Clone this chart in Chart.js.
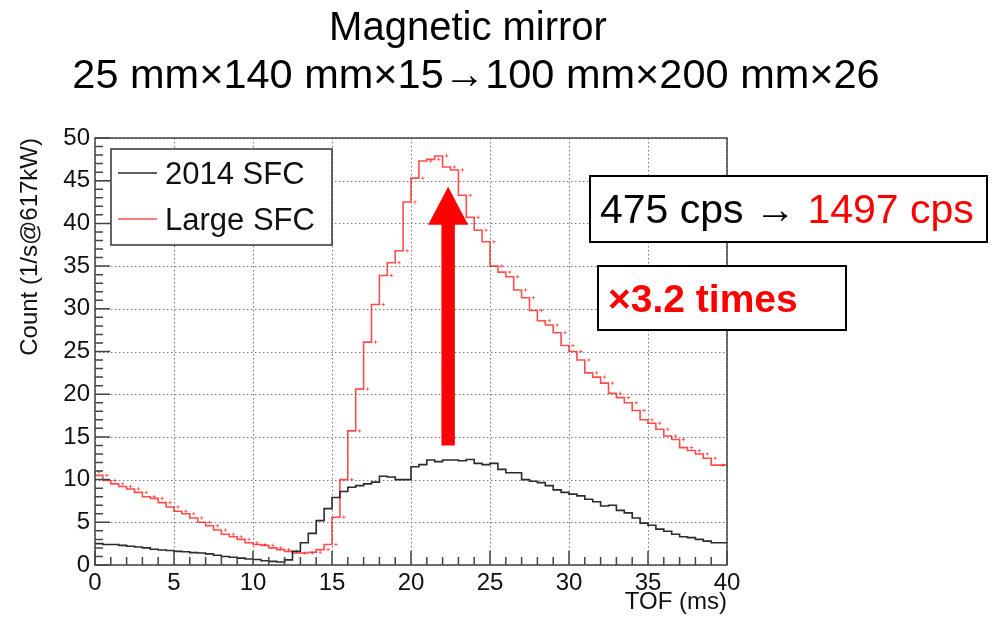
<!DOCTYPE html>
<html>
<head>
<meta charset="utf-8">
<script src="https://cdn.jsdelivr.net/npm/chart.js@4/dist/chart.umd.min.js"></script>
<style>
  body { margin: 0; background: #fff; }
  canvas { display: block; }
</style>
</head>
<body>
<canvas id="tofChart" width="994" height="617"></canvas>
<script>
// TOF histograms, 0.5 ms bins from 0 to 40 ms
const binWidth = 0.5;
const sfc2014 = [
  2.6, 2.5, 2.4, 2.4, 2.3, 2.2, 2.1, 2.0, 1.85, 1.75,
  1.7, 1.6, 1.55, 1.45, 1.4, 1.3, 1.15, 1.0, 0.9, 0.8,
  0.7, 0.65, 0.5, 0.42, 0.35, 0.6, 1.6, 2.6, 3.7, 5.2,
  6.6, 7.9, 8.6, 9.1, 9.3, 9.5, 9.7, 10.4, 10.3, 10.0,
  10.0, 11.5, 11.75, 12.3, 12.1, 12.3, 12.3, 12.2, 12.35, 11.9,
  11.75, 11.9, 11.2, 10.8, 10.8, 10.0, 9.8, 9.65, 9.3, 8.8,
  8.5, 8.3, 8.1, 7.7, 7.4, 6.9, 7.0, 6.4, 6.1, 5.5,
  4.9, 4.65, 4.2, 3.95, 3.6, 3.3, 3.2, 3.0, 2.8, 2.6
];
const sfcLarge = [
  10.9, 10.5, 9.9, 9.5, 9.2, 8.9, 8.5, 8.0, 7.8, 7.3,
  6.8, 6.3, 6.0, 5.5, 5.0, 4.6, 4.1, 3.6, 3.3, 3.0,
  2.6, 2.4, 2.3, 2.0, 1.8, 1.6, 1.4, 1.4, 1.5, 1.8,
  2.4, 5.6, 10.0, 15.7, 20.6, 26.1, 30.5, 33.9, 35.4, 36.8,
  42.5, 45.3, 47.3, 47.5, 47.9, 46.6, 46.25, 43.3, 40.7, 39.2,
  37.85, 35.0, 34.3, 33.75, 32.2, 31.3, 29.8, 28.6, 28.1, 27.2,
  25.7, 25.0, 24.0, 22.5, 22.0, 21.3, 20.1, 19.6, 19.0, 18.1,
  17.0, 16.6, 15.9, 15.1, 14.7, 13.75, 13.4, 13.0, 12.5, 11.7
];
const seriesNames = ["2014 SFC", "Large SFC"];
const titleLines = ["Magnetic mirror", "25 mm×140 mm×15→100 mm×200 mm×26"];
const rateBefore = "475 cps → ";
const rateAfter = "1497 cps";
const gainText = "×3.2 times";
// arrow from the old peak level up to the new one
const arrowX = 22.35;
const arrowFrom = 14;
const arrowTo = 44.3;

const FONT = "'Liberation Sans', Arial, Helvetica, sans-serif";
const BLACK_LINE = "#2b2b2b";
const RED_LINE = "rgba(255,0,0,0.7)";

// left edges + closing point so stepped lines cover every bin
function stepPoints(vals) {
  const pts = vals.map((v, i) => ({ x: i * binWidth, y: v }));
  pts.push({ x: vals.length * binWidth, y: vals[vals.length - 1] });
  return pts;
}
function centerPoints(vals) {
  return vals.map((v, i) => ({ x: (i + 0.5) * binWidth, y: v }));
}

// ROOT-style dotted grid, frame, inner tick marks, legend, title and note boxes
const decorations = {
  id: "decorations",
  beforeDatasetsDraw(chart) {
    const { ctx, chartArea: a, scales: { x, y } } = chart;
    ctx.save();
    ctx.strokeStyle = "#7a7a7a";
    ctx.lineWidth = 1;
    ctx.setLineDash([1.5, 2.5]);
    ctx.beginPath();
    x.ticks.forEach(t => {
      const px = Math.round(x.getPixelForValue(t.value)) + 0.5;
      ctx.moveTo(px, a.top);
      ctx.lineTo(px, a.bottom);
    });
    y.ticks.forEach(t => {
      const py = Math.round(y.getPixelForValue(t.value)) + 0.5;
      ctx.moveTo(a.left, py);
      ctx.lineTo(a.right, py);
    });
    ctx.stroke();
    ctx.restore();
  },
  afterDatasetsDraw(chart) {
    const { ctx, scales: { x, y } } = chart;
    ctx.save();

    // red arrow
    const ax = x.getPixelForValue(arrowX);
    const yTop = y.getPixelForValue(arrowTo);
    const yBot = y.getPixelForValue(arrowFrom);
    const headH = 38, headW = 20, shaft = 6.7;
    ctx.fillStyle = "#ff0000";
    ctx.beginPath();
    ctx.moveTo(ax - shaft, yBot);
    ctx.lineTo(ax - shaft, yTop + headH);
    ctx.lineTo(ax - headW, yTop + headH);
    ctx.lineTo(ax, yTop);
    ctx.lineTo(ax + headW, yTop + headH);
    ctx.lineTo(ax + shaft, yTop + headH);
    ctx.lineTo(ax + shaft, yBot);
    ctx.closePath();
    ctx.fill();
    ctx.restore();
  },
  afterDraw(chart) {
    const { ctx, chartArea: a, scales: { x, y } } = chart;
    ctx.save();

    // frame
    ctx.strokeStyle = "#444";
    ctx.lineWidth = 1.5;
    ctx.strokeRect(a.left, a.top, a.right - a.left, a.bottom - a.top);

    // ticks along the x axis, 1 ms minor / 5 ms major
    ctx.beginPath();
    for (let t = 0; t <= 40; t++) {
      const px = x.getPixelForValue(t);
      const len = t % 5 === 0 ? 14 : 8;
      ctx.moveTo(px, a.bottom);
      ctx.lineTo(px, a.bottom - len);
    }
    // ticks along the y axis
    for (let v = 0; v <= 50; v++) {
      const py = y.getPixelForValue(v);
      const len = v % 5 === 0 ? 15 : 8;
      ctx.moveTo(a.left, py);
      ctx.lineTo(a.left + len, py);
    }
    ctx.stroke();

    // legend
    ctx.fillStyle = "#fff";
    ctx.fillRect(111, 149, 221, 96);
    ctx.strokeStyle = "#333";
    ctx.lineWidth = 1.5;
    ctx.strokeRect(111, 149, 221, 96);
    ctx.font = "31px " + FONT;
    ctx.textBaseline = "alphabetic";
    ctx.textAlign = "left";
    const legendRows = [
      { name: seriesNames[0], color: BLACK_LINE, y: 173 },
      { name: seriesNames[1], color: RED_LINE, y: 219 }
    ];
    legendRows.forEach(r => {
      ctx.strokeStyle = r.color;
      ctx.lineWidth = 1.5;
      ctx.beginPath();
      ctx.moveTo(118, r.y);
      ctx.lineTo(157, r.y);
      ctx.stroke();
      ctx.fillStyle = "#111";
      ctx.fillText(r.name, 165, r.y + 11);
    });

    // title
    ctx.fillStyle = "#000";
    ctx.textAlign = "center";
    ctx.font = "40px " + FONT;
    ctx.fillText(titleLines[0], 468, 40);
    ctx.font = "41.5px " + FONT;
    ctx.fillText(titleLines[1], 476, 88);

    // rate box
    ctx.textAlign = "left";
    ctx.fillStyle = "#fff";
    ctx.fillRect(590, 176, 397, 66);
    ctx.strokeStyle = "#000";
    ctx.lineWidth = 2;
    ctx.strokeRect(590, 176, 397, 66);
    ctx.font = "41px " + FONT;
    ctx.fillStyle = "#000";
    ctx.fillText(rateBefore, 600, 223);
    const w = ctx.measureText(rateBefore).width;
    ctx.fillStyle = "#ff0000";
    ctx.fillText(rateAfter, 600 + w, 223);

    // gain box
    ctx.fillStyle = "#fff";
    ctx.fillRect(598, 266, 248, 64);
    ctx.strokeRect(598, 266, 248, 64);
    ctx.font = "bold 39px " + FONT;
    ctx.fillStyle = "#ff0000";
    ctx.fillText(gainText, 608, 312);

    ctx.restore();
  }
};

const ctx = document.getElementById("tofChart").getContext("2d");
const tofChart = new Chart(ctx, {
  type: "line",
  data: {
    datasets: [
      {
        label: seriesNames[0],
        data: stepPoints(sfc2014),
        stepped: "after",
        borderColor: BLACK_LINE,
        borderWidth: 1.6,
        pointRadius: 0,
        fill: false
      },
      {
        label: seriesNames[1],
        data: stepPoints(sfcLarge),
        stepped: "after",
        borderColor: RED_LINE,
        borderWidth: 1.6,
        pointRadius: 0,
        fill: false
      },
      {
        // small error markers at bin centres
        label: "Large SFC errors",
        data: centerPoints(sfcLarge),
        showLine: false,
        pointStyle: "cross",
        pointRadius: 1.8,
        pointBorderWidth: 1,
        pointBorderColor: "rgba(255,0,0,0.55)",
        pointBackgroundColor: "rgba(255,0,0,0.55)"
      }
    ]
  },
  options: {
    responsive: false,
    devicePixelRatio: 1,
    animation: false,
    layout: { padding: { left: 0, right: 267, top: 138, bottom: 0 } },
    plugins: {
      legend: { display: false },
      tooltip: { enabled: false }
    },
    scales: {
      x: {
        type: "linear",
        min: 0,
        max: 40,
        afterFit: s => { s.height = 52; },
        ticks: {
          stepSize: 5,
          padding: 4,
          color: "#111",
          font: { family: FONT, size: 24 },
          maxRotation: 0
        },
        grid: { display: false, drawTicks: false },
        border: { display: false },
        title: {
          display: true,
          text: "TOF (ms)",
          align: "end",
          color: "#111",
          font: { family: FONT, size: 24 },
          padding: { top: 0, bottom: 0 }
        }
      },
      y: {
        min: 0,
        max: 50,
        afterFit: s => { s.width = 95; },
        ticks: {
          stepSize: 5,
          padding: 5,
          color: "#111",
          font: { family: FONT, size: 24 }
        },
        grid: { display: false, drawTicks: false },
        border: { display: false },
        title: {
          display: true,
          text: "Count (1/s@617kW)",
          align: "end",
          color: "#111",
          font: { family: FONT, size: 24 },
          padding: { top: 16, bottom: 0 }
        }
      }
    }
  },
  plugins: [decorations]
});
</script>
</body>
</html>
